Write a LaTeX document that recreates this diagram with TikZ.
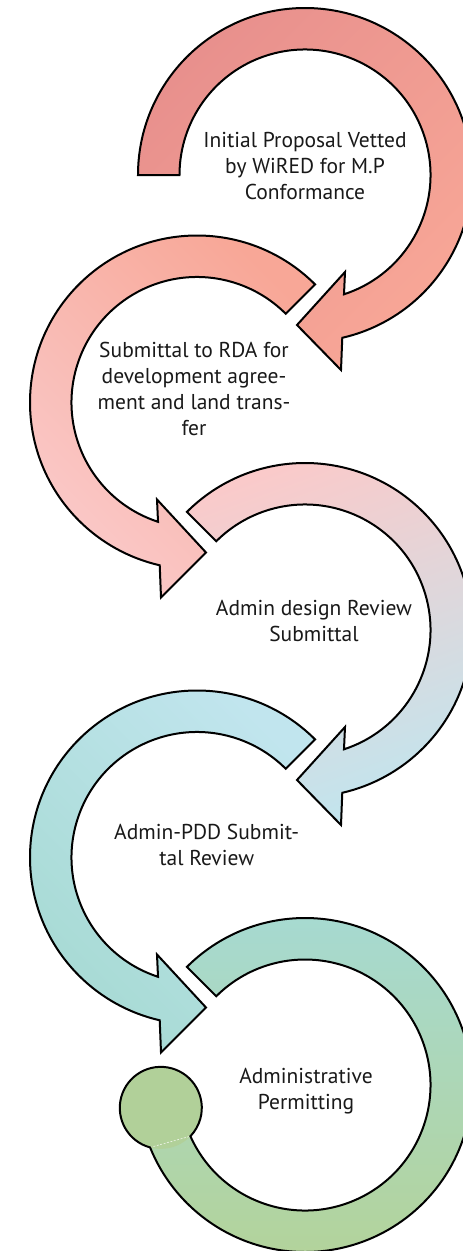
\documentclass[tikz,border=0pt]{standalone}
\usepackage{fontspec}
\setmainfont{PT Sans}

\definecolor{roseDark}{HTML}{E8908D}
\definecolor{salmon}{HTML}{F8A797}
\definecolor{blush}{HTML}{FACACA}
\definecolor{iceBlue}{HTML}{C1E5EE}
\definecolor{seaTeal}{HTML}{A6DAD3}
\definecolor{sageGreen}{HTML}{B3D39A}
\definecolor{knobGreen}{HTML}{B1D099}

\tikzset{
  band/.style={draw=black, line width=2pt},
  bandfill/.style={draw=none},
  outline/.style={draw=black, line width=2pt, fill=none},
  seamline/.style={draw=white, line width=0.6pt, dash pattern=on 2pt off 1.5pt, opacity=0.8},
  steplabel/.style={align=center, text=black!90, inner sep=0pt,
    font=\fontsize{21.5}{26}\selectfont},
}

\begin{document}
\begin{tikzpicture}[x=1pt,y=1pt]
	\useasboundingbox (0,0) rectangle (463,-1251);
	\fill[white] (0,0) rectangle (463,-1251);
	\clip (0,0) rectangle (463,-1251);

	% step 1
	\begin{scope}[shift={(305,-175)}]
		\path[band, top color=roseDark, bottom color=salmon, shading angle=45]
			(180:167) arc[start angle=180, end angle=-77.1, radius=167]
			-- (36,-195) -- (-8,-150) -- (40,-97)
			-- (-71.9:125.5) arc[start angle=-71.9, end angle=180, radius=125.5] -- cycle;
		\node[steplabel] (proposal) at (0,9) {Initial Proposal Vetted\\by WiRED for M.P\\Conformance};
	\end{scope}

	% step 2
	\begin{scope}[shift={(197,-402.5)}]
		\path[band, top color=salmon, bottom color=blush, shading angle=-45]
			(45:167) arc[start angle=45, end angle=257.1, radius=167]
			-- (-36,-195) -- (9,-150) -- (-40,-97)
			-- (251.9:125.5) arc[start angle=251.9, end angle=45, radius=125.5] -- cycle;
		\node[steplabel] (rda) at (-3,14) {Submittal to RDA for\\development agree-\\ment and land trans-\\fer};
	\end{scope}

	% step 3
	\begin{scope}[shift={(305,-630)}]
		\path[band, top color=blush, bottom color=iceBlue, shading angle=20]
			(135:167) arc[start angle=135, end angle=-77.1, radius=167]
			-- (36,-195) -- (-8,-150) -- (40,-97)
			-- (-71.9:125.5) arc[start angle=-71.9, end angle=135, radius=125.5] -- cycle;
		\node[steplabel] (design) at (9,9.5) {Admin design Review\\Submittal};
	\end{scope}

	% step 4
	\begin{scope}[shift={(197,-857.5)}]
		\path[band, top color=iceBlue, bottom color=seaTeal, shading angle=-45]
			(45:167) arc[start angle=45, end angle=257.1, radius=167]
			-- (-36,-195) -- (9,-150) -- (-40,-97)
			-- (251.9:125.5) arc[start angle=251.9, end angle=45, radius=125.5] -- cycle;
		\node[steplabel] (pdd) at (9.7,12.5) {Admin-PDD Submit-\\tal Review};
	\end{scope}

	% step 5, ends in a knob
	\begin{scope}[shift={(305,-1085)}]
		\path[bandfill, top color=seaTeal, bottom color=sageGreen]
			(135:167) arc[start angle=135, end angle=-158.05, radius=167]
			-- (-155.93:125.5) arc[start angle=-155.93, end angle=135, radius=125.5] -- cycle;
		\fill[knobGreen] (189:146) circle[radius=41];
		\draw[seamline] (-158.05:167) -- (-155.93:125.5);
		\path[outline]
			(135:167) arc[start angle=135, end angle=-158.05, radius=167]
			arc[start angle=-105.11, end angle=-403.74, radius=41]
			arc[start angle=-155.93, end angle=135, radius=125.5] -- cycle;
		\node[steplabel] (permit) at (1,-6.5) {Administrative\\Permitting};
	\end{scope}
\end{tikzpicture}
\end{document}
